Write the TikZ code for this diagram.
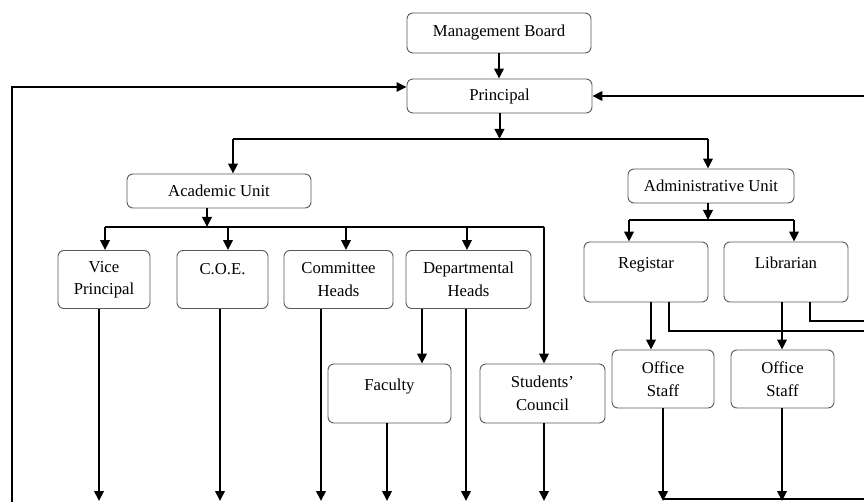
\documentclass[tikz,border=0pt]{standalone}
\usepackage{fontspec}
\setmainfont{Liberation Serif}
\usetikzlibrary{arrows.meta}
\begin{document}
\begin{tikzpicture}[x=1pt,y=-1pt,
  box/.style={draw=black!65, line width=0.9pt, rounded corners=6pt, align=center, inner sep=0pt,
    font=\fontsize{16.7pt}{22.5pt}\selectfont},
  conn/.style={line width=2pt, -{Triangle[length=10pt,width=9.5pt]}},
  plain/.style={line width=2pt},
  bus/.style={line width=1.4pt},
]
\useasboundingbox (0,0) rectangle (864,502);

% boxes
\node[box, minimum width=184pt, minimum height=40pt] (mb) at (499,33) {Management Board};
\node[box, minimum width=185pt, minimum height=34pt] (pr) at (499.5,96) {Principal};
\node[box, minimum width=184pt, minimum height=34pt] (au) at (219,191) {Academic Unit};
\node[box, minimum width=166pt, minimum height=34pt] (ad) at (711,186) {Administrative Unit};
\node[box, minimum width=92pt, minimum height=58pt] (vp) at (104,279.5) {Vice\\Principal};
\node[box, minimum width=91pt, minimum height=58pt] (coe) at (222.5,279.5) {\raisebox{22pt}{C.O.E.}};
\node[box, minimum width=109pt, minimum height=58pt] (ch) at (338.5,279.5) {Committee\\Heads};
\node[box, minimum width=125pt, minimum height=58pt] (dh) at (468.5,279.5) {Departmental\\Heads};
\node[box, minimum width=123pt, minimum height=59pt] (fa) at (389.5,393.5) {\raisebox{18pt}{Faculty}};
\node[box, minimum width=125pt, minimum height=59pt] (sc) at (542.5,393.5) {Students'\\Council};
\node[box, minimum width=124pt, minimum height=60pt] (rg) at (646,272) {\raisebox{18pt}{Registar}};
\node[box, minimum width=124pt, minimum height=60pt] (lb) at (786,272) {\raisebox{18pt}{Librarian}};
\node[box, minimum width=102pt, minimum height=58pt] (os1) at (663,379) {Office\\Staff};
\node[box, minimum width=103pt, minimum height=58pt] (os2) at (782.5,379) {Office\\Staff};

% helper coordinates
\coordinate (bot) at (0,501);
\coordinate (b1L) at (233,139);
\coordinate (b1R) at (708,139);
\coordinate (b2L) at (105,227);
\coordinate (b2R) at (544,227);
\coordinate (b3L) at (629,220);
\coordinate (b3R) at (794,220);
\coordinate (FL) at (12,502);
\coordinate (ER) at (864,0);
\coordinate (r1) at (864,331);
\coordinate (r2) at (864,321);
\coordinate (bh) at (864,499);

% top
\draw[conn] (mb.south) -- (mb.south |- pr.north);
\draw[conn] (pr.south) -- (pr.south |- b1L);
\draw[bus] (b1L) -- (b1R);
\draw[conn] (b1L) -- (b1L |- au.north);
\draw[conn] (b1R) -- (b1R |- ad.north);

% academic unit
\draw[conn] ([xshift=-12pt]au.south) -- ([xshift=-12pt]au.south |- b2L);
\draw[bus] (b2L) -- (b2R);
\draw[conn] (b2L) -- (b2L |- vp.north);
\draw[conn] ([xshift=5.5pt]coe.north |- b2L) -- ([xshift=5.5pt]coe.north);
\draw[conn] ([xshift=7.5pt]ch.north |- b2L) -- ([xshift=7.5pt]ch.north);
\draw[conn] ([xshift=-1.5pt]dh.north |- b2L) -- ([xshift=-1.5pt]dh.north);
\draw[conn] (b2R) -- (b2R |- sc.north);

% administrative unit
\draw[conn] ([xshift=-3pt]ad.south) -- ([xshift=-3pt]ad.south |- b3L);
\draw[bus] (b3L) -- (b3R);
\draw[conn] (b3L) -- (b3L |- rg.north);
\draw[conn] (b3R) -- (b3R |- lb.north);

% downward lines
\draw[conn] ([xshift=-5pt]vp.south) -- ([xshift=-5pt]vp.south |- bot);
\draw[conn] ([xshift=-2.5pt]coe.south) -- ([xshift=-2.5pt]coe.south |- bot);
\draw[conn] ([xshift=-17.5pt]ch.south) -- ([xshift=-17.5pt]ch.south |- bot);
\draw[conn] ([xshift=-46.5pt]dh.south) -- ([xshift=-46.5pt]dh.south |- fa.north);
\draw[conn] ([xshift=-2.5pt]dh.south) -- ([xshift=-2.5pt]dh.south |- bot);
\draw[conn] ([xshift=-2.5pt]fa.south) -- ([xshift=-2.5pt]fa.south |- bot);
\draw[conn] ([xshift=1.5pt]sc.south) -- ([xshift=1.5pt]sc.south |- bot);

\draw[conn] ([xshift=5pt]rg.south) -- ([xshift=5pt]rg.south |- os1.north);
\draw[plain] ([xshift=23pt]rg.south) |- (r1);
\draw[conn] ([xshift=-4pt]lb.south) -- ([xshift=-4pt]lb.south |- os2.north);
\draw[plain] ([xshift=24pt]lb.south) |- (r2);

\draw[conn] (os1.south) -- (os1.south |- bot);
\draw[conn] ([xshift=-0.5pt]os2.south) -- ([xshift=-0.5pt]os2.south |- bot);
\draw[line width=1.2pt] (os1.south |- bh) -- (bh);

% feedback lines
\draw[line width=1.4pt, -{Triangle[length=10pt,width=9.5pt]}] (FL) |- ([yshift=9pt]pr.west);
\draw[conn] (ER |- pr.east) -- (pr.east);
\end{tikzpicture}
\end{document}
